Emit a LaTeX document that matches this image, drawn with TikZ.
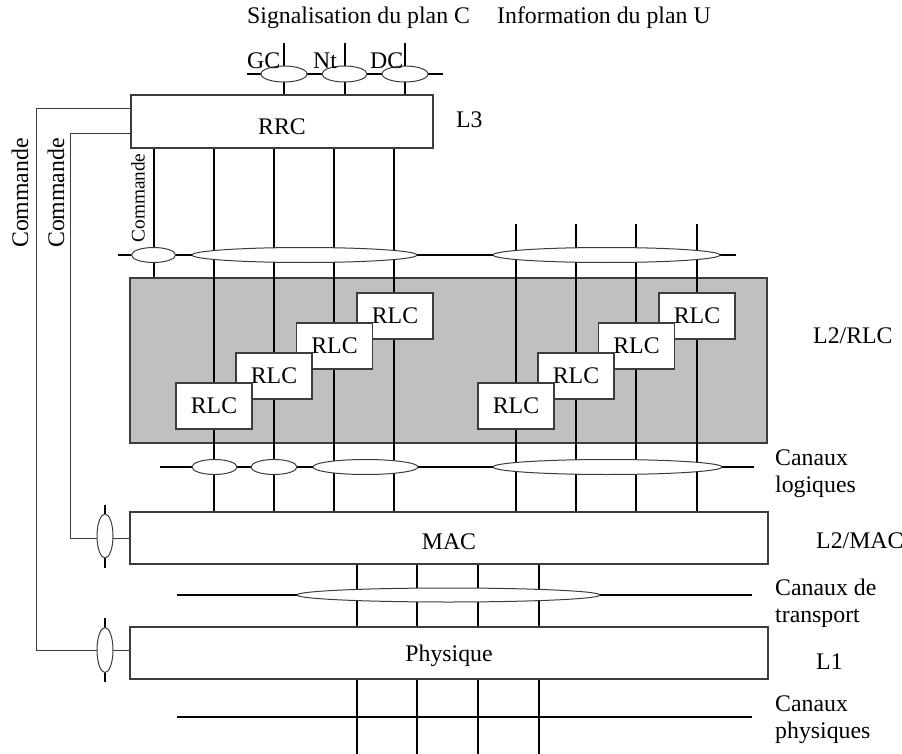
\documentclass[tikz,border=0pt]{standalone}
\usepackage{fontspec}
\setmainfont{Liberation Serif}
\usepackage{tikz}
\usetikzlibrary{shapes.geometric,backgrounds}
\definecolor{AreaGray}{RGB}{192,192,192}
\definecolor{EdgeGray}{RGB}{60,60,60}
\newcommand{\labfont}{\fontsize{23.8}{27}\selectfont}
\newcommand{\tinylabfont}{\fontsize{19.3}{22}\selectfont}
\tikzset{
  layerbox/.style={draw=EdgeGray,fill=white,line width=1.2pt,minimum width=638pt,
    minimum height=52pt,inner sep=0pt,font=\labfont},
  areabox/.style={draw=EdgeGray,fill=AreaGray,line width=1.2pt,minimum width=637pt,
    minimum height=165pt,inner sep=0pt},
  rlcbox/.style={draw=EdgeGray,fill=white,line width=1.2pt,minimum width=76pt,
    minimum height=46pt,inner sep=0pt,font=\labfont},
  sap/.style={ellipse,draw=EdgeGray,fill=white,line width=1pt,inner sep=0pt,minimum height=15pt},
  csap/.style={ellipse,draw=EdgeGray,fill=white,line width=1pt,inner sep=0pt,
    minimum width=16pt,minimum height=44pt},
  chan/.style={line width=2pt},
  ctrl/.style={draw=EdgeGray,line width=1pt},
  lab/.style={inner sep=0pt,font=\labfont}
}
\begin{document}
\begin{tikzpicture}[x=1pt,y=-1pt]
\useasboundingbox (0,0) rectangle (902,754);
\node[layerbox,minimum width=302pt,minimum height=53pt,text height=26pt] (rrc) at (282,121.5) {RRC};
\node[layerbox,text height=22.8pt] (mac) at (449,538) {MAC};
\node[layerbox,text depth=0pt] (phy) at (449,653) {Physique};
\coordinate (ctop) at (0,43);
\coordinate (utop) at (0,224);
\coordinate (pbot) at (0,754);
\coordinate (s0) at (247,74);  \coordinate (s1) at (443,74);
\coordinate (l0) at (118,255); \coordinate (l1) at (736,255);
\coordinate (m0) at (160,467); \coordinate (m1) at (754,467);
\coordinate (t0) at (177,595); \coordinate (t1) at (752,595);
\coordinate (p0) at (177,717); \coordinate (p1) at (752,717);
\node[sap,minimum width=46pt,minimum height=16pt] (gc) at (284,74) {};
\node[sap,minimum width=45pt,minimum height=16pt] (nt) at (344.5,74) {};
\node[sap,minimum width=46pt,minimum height=16pt] (dc) at (405,74) {};
\node[sap,minimum width=44pt] (scmd) at (153.5,255) {};
\node[sap,minimum width=225pt] (sc) at (304.5,255) {};
\node[sap,minimum width=227pt] (su) at (606.5,255) {};
\node[sap,minimum width=45pt] (lc1) at (214.5,467) {};
\node[sap,minimum width=46pt] (lc2) at (274,467) {};
\node[sap,minimum width=105pt] (lc3) at (365.5,467) {};
\node[sap,minimum width=229pt] (lu) at (607.5,467) {};
\node[sap,minimum width=303pt,minimum height=14pt] (tr) at (448.5,595) {};
\node[csap] (cmac) at (105,536) {};
\node[csap,minimum height=45pt] (cphy) at (105,650) {};
\foreach \i/\x/\y in {4/395/316,3/334.5/346,2/274/376,1/214/406} {
  \node[rlcbox] (rlcc\i) at (\x,\y) {RLC};
  \node[rlcbox] (rlcu\i) at (\x+302,\y) {RLC};
}
\begin{scope}[on background layer]
  \node[areabox] (rlcarea) at (448.5,360.5) {};
  \draw[chan] (s0) -- (s1) (l0) -- (l1) (m0) -- (m1) (t0) -- (t1) (p0) -- (p1);
  \foreach \n in {gc,nt,dc}
    \draw[chan] (\n |- ctop) -- (\n |- rrc.north);
  \draw[chan] (scmd |- rrc.south) -- (scmd |- rlcarea.north);
  \foreach \x in {214,274,334,394}
    \draw[chan] (\x,0 |- rrc.south) -- (\x,0 |- mac.north);
  \foreach \x in {516,576,636,697}
    \draw[chan] (\x,0 |- utop) -- (\x,0 |- mac.north);
  \foreach \x in {357,417,478,539}
    \draw[chan] (\x,0 |- mac.south) -- (\x,0 |- pbot);
  \draw[ctrl] ([yshift=12.5pt]rrc.west) -- ++(-94,0) |- ([yshift=3pt]phy.west);
  \draw[ctrl] ([yshift=-12.5pt]rrc.west) -- ++(-60,0) |- (mac.west);
  \draw[chan] ([yshift=9pt]cmac.north) -- ([yshift=-9pt]cmac.south);
  \draw[chan] ([yshift=9pt]cphy.north) -- ([yshift=-9pt]cphy.south);
\end{scope}
\node[lab,anchor=base west] (sigc) at (247,24) {Signalisation du plan C};
\node[lab,anchor=base west] (infu) at (497,24) {Information du plan U};
\node[lab,anchor=base west] (gcl) at (247,69) {GC};
\node[lab,anchor=base west] (ntl) at (313,69) {Nt};
\node[lab,anchor=base west] (dcl) at (370,69) {DC};
\node[lab,anchor=base west] (l3) at (456,128) {L3};
\node[lab,anchor=base west] (l2rlc) at (813,343) {L2/RLC};
\node[lab,anchor=base west] (l2mac) at (816,548) {L2/MAC};
\node[lab,anchor=base west] (l1) at (816,669) {L1};
\node[lab,anchor=north west,align=left] (clog) at (775,450) {Canaux\\logiques};
\node[lab,anchor=north west,align=left] (ctr) at (775,579) {Canaux de\\transport};
\node[lab,anchor=north west,align=left] (cphl) at (775,696) {Canaux\\physiques};
\node[lab,rotate=90] (cmdo) at (20,193) {Commande};
\node[lab,rotate=90] (cmdi) at (56,193) {Commande};
\node[lab,rotate=90,font=\tinylabfont] (cmds) at (138,198) {Commande};
\end{tikzpicture}
\end{document}
